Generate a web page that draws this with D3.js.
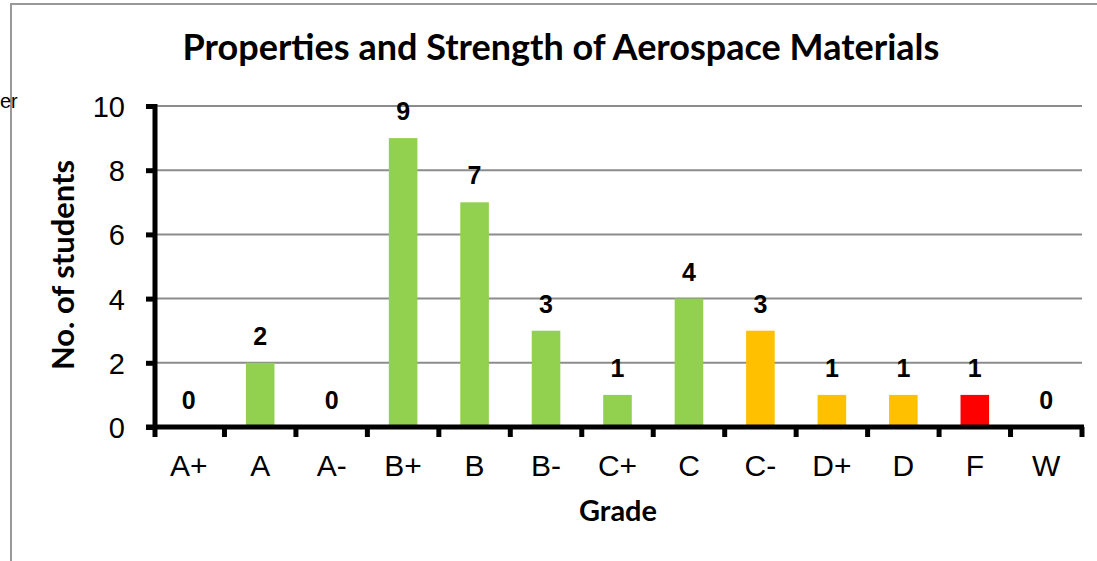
<!DOCTYPE html>
<html><head><meta charset="utf-8">
<script src="https://cdn.jsdelivr.net/npm/d3@7"></script>
<style>body{margin:0;background:#fff;} svg{display:block;}</style>
</head><body>
<svg id="c" width="1097" height="561"></svg>
<script>
const categories = ["A+","A","A-","B+","B","B-","C+","C","C-","D+","D","F","W"];
const values = [0,2,0,9,7,3,1,4,3,1,1,1,0];
const barColors = ["#92D050","#92D050","#92D050","#92D050","#92D050","#92D050","#92D050","#92D050","#FFC000","#FFC000","#FFC000","#FF0000","#FF0000"];
const yTicks = [0,2,4,6,8,10];
const titleText = "Properties and Strength of Aerospace Materials";
const xTitle = "Grade";
const yTitle = "No. of students";

const svg = d3.select("#c");
const L = 153, R = 1082, T = 106, B = 427;
const ARIAL = "Liberation Sans, Arial, sans-serif";
const CAL = "Lato, Open Sans, sans-serif";

function fit(sel, width) {
  const base = +sel.attr("font-size");
  const w = sel.node().getComputedTextLength();
  sel.attr("font-size", base * width / w);
}

// frame
svg.append("path").attr("d","M11,561 L11,4 L1097,4").attr("fill","none").attr("stroke","#999").attr("stroke-width",2);
svg.append("text").attr("x",0).attr("y",108).attr("text-anchor","start")
  .attr("font-family",ARIAL).attr("font-size",20).text("er");

const x = d3.scaleBand().domain(categories).range([L,R]).paddingInner(0.6).paddingOuter(0.3);
const xb = d3.scaleLinear().domain([0,categories.length]).range([L,R]);
const y = d3.scaleLinear().domain([0,10]).range([B,T]);

// gridlines
svg.append("g").selectAll("line").data(yTicks.filter(d=>d>0)).join("line")
  .attr("x1",L).attr("x2",R).attr("y1",d=>y(d)).attr("y2",d=>y(d))
  .attr("stroke","#8c8c8c").attr("stroke-width",2);

// bars
svg.append("g").selectAll("rect").data(values).join("rect")
  .attr("x",(d,i)=>x(categories[i])).attr("width",x.bandwidth())
  .attr("y",d=>y(d)).attr("height",d=>B-y(d)).attr("fill",(d,i)=>barColors[i]);

// data labels
svg.append("g").selectAll("text").data(values).join("text")
  .attr("x",(d,i)=>x(categories[i])+x.bandwidth()/2).attr("y",d=>y(d)-18)
  .attr("text-anchor","middle").attr("font-family",ARIAL)
  .attr("font-weight","bold").attr("font-size",25).text(d=>d);

// y axis
const yAxis = d3.axisLeft(y).tickValues(yTicks).tickSize(7).tickPadding(21).tickSizeOuter(0);
const gy = svg.append("g").attr("transform",`translate(${L},0)`).call(yAxis);
gy.select(".domain").remove();
gy.selectAll(".tick line").attr("stroke","#000").attr("stroke-width",5);
gy.selectAll(".tick text").attr("font-family",ARIAL).attr("font-size",29).attr("fill","#000").attr("dy","0.36em");
svg.append("line").attr("x1",L+2).attr("x2",L+2).attr("y1",T-2).attr("y2",B+2).attr("stroke","#000").attr("stroke-width",5);

// x axis
const gx = svg.append("g").attr("transform",`translate(0,${B})`);
gx.selectAll("line.tk").data(d3.range(categories.length+1)).join("line").attr("class","tk")
  .attr("x1",d=>xb(d)+(d===0?2:0)).attr("x2",d=>xb(d)+(d===0?2:0)).attr("y1",0).attr("y2",10)
  .attr("stroke","#000").attr("stroke-width",5);
svg.append("line").attr("x1",L-7).attr("x2",R+2).attr("y1",B).attr("y2",B).attr("stroke","#000").attr("stroke-width",5);
gx.selectAll("text").data(categories).join("text")
  .attr("x",d=>x(d)+x.bandwidth()/2).attr("y",49).attr("text-anchor","middle")
  .attr("font-family",ARIAL).attr("font-size",30).text(d=>d);

// titles
fit(svg.append("text").attr("x",561).attr("y",60).attr("text-anchor","middle")
  .attr("font-family",CAL).attr("font-weight","bold").attr("font-size",30).text(titleText), 757);
fit(svg.append("text").attr("x",618).attr("y",521).attr("text-anchor","middle")
  .attr("font-family",CAL).attr("font-weight","bold").attr("font-size",24).text(xTitle), 78);
fit(svg.append("text").attr("transform","translate(74,265) rotate(-90)").attr("text-anchor","middle")
  .attr("font-family",CAL).attr("font-weight","bold").attr("font-size",24).text(yTitle), 210);
</script>
</body></html>
